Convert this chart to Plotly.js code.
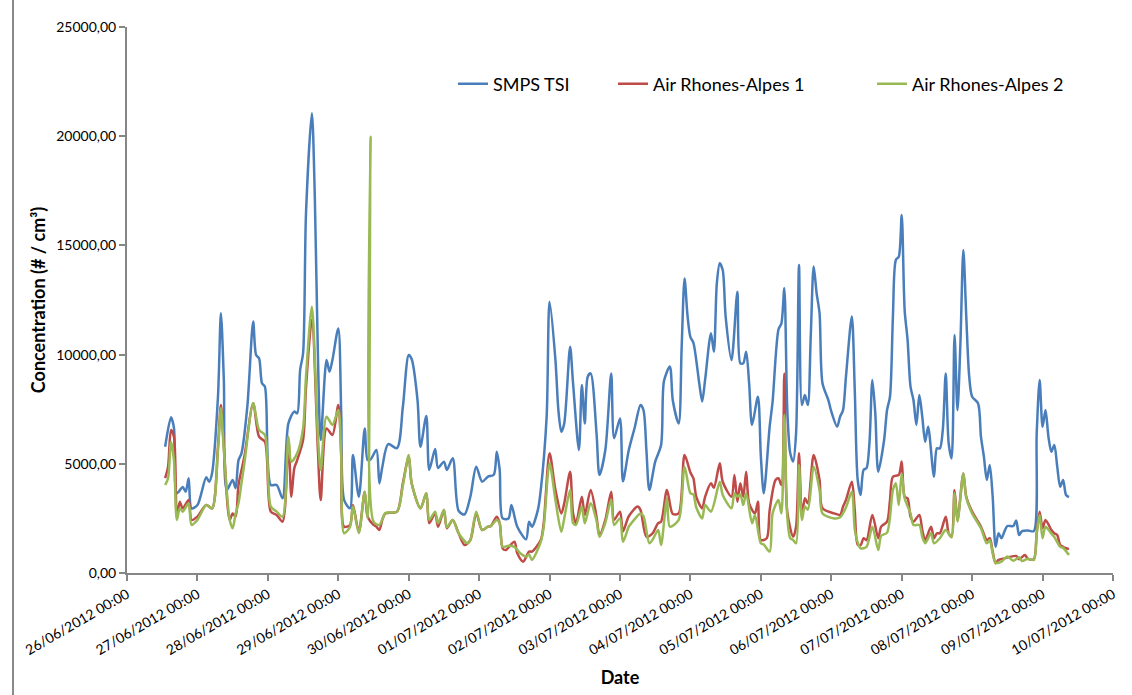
<!DOCTYPE html>
<html>
<head>
<meta charset="utf-8">
<script src="https://cdn.plot.ly/plotly-3.0.1.min.js"></script>
<style>html,body{margin:0;padding:0;background:#fff;}#chart{width:1132px;height:695px;}</style>
</head>
<body>
<div id="chart"></div>
<script>
// Hours counted from 26/06/2012 00:00
const hoursSMPS = [13,15,16,17,19,20,21,22,24,27,28,29,31,32,33,34,36,37,38,39,41,43,44,45,46,47,49,51,53,55,57,58,59,60,61,63,64,65,66,68,69,70,72,73,74,76,77,79,81,82,83,85,86,87,89,92,94,96,97,99,100,102,103,105,106,108,109,111,113,115,117,119,121,123,125,126,127,128,130,131,133,136,137,138,140,141,143,144,146,147,148,149,151,152,154,155,156,157,158,160,161,163,165,166,168,169,171,173,175,176,177,178,180,182,183,185,186,188,189,190,191,192,193,195,196,197,199,200,201,202,203,204,206,208,209,210,211,212,213,215,216,217,219,220,222,223,224,225,226,227,228,229,230,231,232,233,234,235,236,237,239,240,242,243,244,245,247,248,249,250,251,252,253,254,255,256,258,259,260,261,262,263,264,265,266,267,268,269,270,271,272,273,275,276,277,278,279,280,281,282,283,284,285,286,287,288,290,291,292,293,294,295,296,297,298,299,300,302,303,304,305,307,309,310,311,312,313,314,315,316,317,318,319,320,321];
const valuesSMPS = [5780,7130,6640,3650,3940,3720,4340,2960,3110,4380,4180,4580,8070,11890,8840,3800,4260,3880,5170,5480,7620,11510,9980,9830,8690,8530,4030,4030,3420,6850,7390,7310,9300,10060,16470,21050,17230,10360,6090,9750,9220,9750,11200,7310,3340,2960,5400,3490,6620,5170,5200,5630,4100,4850,5900,5720,7600,9980,9800,7920,5780,7190,4720,5680,4810,5100,4720,5250,2850,2680,3490,4870,4180,4410,4500,5550,4720,2500,2500,3110,2120,1540,2350,2120,2880,3800,7160,12420,9750,7460,6470,6850,10360,8690,5630,8610,6850,8990,9140,6400,4490,5630,9140,6170,7080,4200,5630,6650,7690,7460,5630,3800,5100,5860,8800,9450,7900,6850,10300,13490,11800,10800,10550,8690,7850,8840,10980,10130,13270,14180,13870,11740,9750,12880,9600,9600,10130,8690,6780,8070,5330,3650,6700,7850,11150,11430,13040,7500,5500,5100,6400,14100,7690,8150,7690,10820,14030,12810,11890,8690,7920,7400,6700,7160,7460,8990,11740,8380,4260,3570,4720,4800,5940,8840,7310,4640,6090,7460,8070,11740,14330,14480,16390,12040,10670,8530,7920,6780,8150,7160,6010,6700,4410,5710,5700,6550,9140,5940,5250,10900,7460,10500,14790,11740,8990,8070,7770,6240,5330,4260,4950,3490,1200,1820,1590,1900,2150,2150,2400,1740,1920,1950,1920,6400,8840,6700,7460,6240,5550,5860,4870,3950,4260,3570,3470];

const hoursAR1 = [13,14,15,16,17,18,19,21,22,24,27,29,31,32,33,35,36,37,38,40,43,45,47,49,51,53,55,56,57,58,60,61,63,65,66,68,70,72,73,74,76,77,79,81,82,84,85,86,87,88,92,94,96,97,100,102,103,105,106,108,109,111,113,115,117,119,121,123,124,126,127,128,129,132,133,135,137,138,141,142,144,146,148,149,151,152,153,155,156,158,160,161,163,165,166,168,169,171,174,175,177,179,181,182,184,186,188,190,192,193,194,196,197,199,200,202,203,206,207,208,209,210,211,212,214,215,216,218,219,221,222,223,224,225,227,228,229,230,231,232,234,236,237,241,243,244,245,247,248,249,250,251,252,254,256,257,259,260,261,263,264,265,266,267,268,270,271,272,274,275,276,277,279,280,281,282,283,285,286,288,291,293,294,295,296,297,299,303,304,306,307,309,310,311,312,313,315,316,317,318,319,321];
const valuesAR1 = [4340,4870,6550,6240,2580,3260,2960,3340,2430,2580,3110,2960,5780,7690,5780,2430,2730,2580,4030,5330,7770,6240,6010,2810,2660,2350,6090,3490,4790,5170,6090,8500,11590,5780,3340,6620,6320,7690,5480,2120,2200,3110,1890,3720,2580,2200,2120,1970,2430,2730,2810,4110,5330,4110,2960,3650,2280,2730,2120,2880,2050,2430,1820,1280,1510,2730,1970,2120,2150,2580,2280,1130,1050,1430,900,520,980,980,1510,2280,5480,3800,2730,3190,4640,2730,2280,3490,2660,3800,2580,1740,2430,3720,2430,2810,1900,2600,3040,2880,1660,1800,2280,2350,3800,2700,2730,5400,4600,4340,3490,2960,3490,4110,3900,5020,4180,3490,4490,3260,4110,3490,4640,3190,2730,3260,1510,1590,2880,4260,4340,4030,9140,2800,1660,2120,5480,2580,3420,3190,5400,4260,2960,2730,2660,3040,3340,4180,2880,1300,1280,1590,1500,2660,1590,2120,2350,3340,4410,4490,5100,3490,3420,2580,2350,2660,1970,1510,2120,1590,1820,1820,2580,1820,1660,3800,2430,4560,3490,2810,2120,1510,1590,980,440,600,670,780,630,820,650,630,1820,2810,2050,2430,1970,1820,1740,1280,1200,1090];

const hoursAR2 = [13,14,15,16,17,18,19,21,22,24,27,29,31,32,33,35,36,37,38,39,40,43,45,47,49,51,53,55,56,58,60,61,63,65,66,68,70,72,73,74,76,77,79,81,82,83,84,86,87,88,92,94,96,97,100,102,103,105,106,108,109,111,113,116,117,119,121,123,124,126,127,128,130,132,134,136,137,138,141,142,144,146,148,149,151,152,153,155,156,158,160,161,163,165,166,168,169,171,172,175,176,178,179,181,182,184,185,188,190,192,193,194,196,197,199,202,203,206,207,208,209,210,211,213,214,216,217,219,220,222,223,224,225,226,227,228,229,230,231,232,234,236,237,241,243,245,247,248,249,250,252,254,256,257,259,261,262,263,264,265,267,268,270,271,272,274,275,277,279,281,282,283,285,286,288,291,293,294,295,296,298,300,302,304,305,307,309,310,311,312,313,315,316,318,319,321];
const valuesAR2 = [4030,4340,6010,5170,2430,2960,2810,3190,2200,2430,3110,2960,5630,7540,5630,2430,2050,2700,3200,4110,5020,7770,6550,6320,3040,2810,2580,6240,5100,5480,6620,9000,12190,6400,4720,7160,6780,7460,5330,1820,2120,3040,1820,3720,2500,19980,2350,2200,2450,2750,2810,4000,5400,4110,2960,3650,2430,2810,2280,2880,2100,2430,1820,1360,1510,2810,1970,2120,2150,2430,2280,1200,1250,1200,900,750,850,600,1430,2100,5020,3340,1890,2500,3800,2280,2200,3040,2280,3190,2400,1660,2300,3370,2200,2500,1430,2120,2300,2730,2600,1360,1500,1970,1280,3420,2120,2430,4870,3650,3600,3000,2500,3110,2810,4180,3570,2960,3650,3500,3600,3110,3650,2280,2660,1360,1300,980,2730,3340,2730,7230,2580,1600,1510,1360,4950,2430,3040,2900,4870,3800,2730,2500,2550,3000,3720,2000,1400,1130,1200,2120,1050,1700,1850,3800,4110,3110,4560,3420,2730,2200,2200,1660,1360,1820,1360,1590,1970,1630,3650,2350,4560,3450,2730,2050,1360,1500,900,470,520,750,560,720,550,650,600,1820,2660,1590,2120,1800,1650,1200,1150,820];

const seriesNames = ['SMPS TSI', 'Air Rhones-Alpes 1', 'Air Rhones-Alpes 2'];
const seriesColors = ['#4A7EBB', '#BE4B48', '#98B954'];
const xRange = ['2012-06-26 00:00:00', '2012-07-10 00:00:00'];
const yRange = [0, 25000];

const start = Date.UTC(2012, 5, 26, 0, 0, 0);
function hourToDate(h) {
  return new Date(start + h * 3600000).toISOString().slice(0, 19).replace('T', ' ');
}

const FONT = 'Lato, "Open Sans", "DejaVu Sans", sans-serif';
const hoursList = [hoursSMPS, hoursAR1, hoursAR2];
const valuesList = [valuesSMPS, valuesAR1, valuesAR2];
const legendIds = ['legend', 'legend2', 'legend3'];

const traces = seriesNames.map((name, i) => ({
  type: 'scatter',
  mode: 'lines',
  name: name,
  x: hoursList[i].map(hourToDate),
  y: valuesList[i],
  legend: legendIds[i],
  line: {color: seriesColors[i], width: 2.5, shape: 'spline', smoothing: 0.8},
  hoverinfo: 'x+y+name'
}));

const legendBase = {
  y: 0.8956, yanchor: 'middle', xanchor: 'left', orientation: 'h',
  bgcolor: 'rgba(0,0,0,0)', font: {family: FONT, size: 18, color: '#000'}
};

const axisColor = '#868686';
const layout = {
  width: 1132, height: 695,
  margin: {l: 127, r: 19, t: 27, b: 122},
  paper_bgcolor: '#fff', plot_bgcolor: '#fff',
  separators: ',.',
  font: {family: FONT, size: 14, color: '#000'},
  showlegend: true,
  legend: Object.assign({}, legendBase, {x: 0.3306}),
  legend2: Object.assign({}, legendBase, {x: 0.4929}),
  legend3: Object.assign({}, legendBase, {x: 0.7556}),
  xaxis: {
    type: 'date', range: xRange, autorange: false,
    tick0: '2012-06-26 00:00:00', dtick: 86400000,
    tickformat: '%d/%m/%Y %H:%M', tickangle: -30,
    ticks: 'outside', ticklen: 6, tickwidth: 2, tickcolor: axisColor,
    showline: true, linecolor: axisColor, linewidth: 2,
    showgrid: false, zeroline: false,
    tickfont: {family: FONT, size: 14, color: '#000'},
    title: {text: 'Date', font: {family: FONT, size: 18, color: '#000', weight: 'bold'}, standoff: 14}
  },
  yaxis: {
    range: yRange, autorange: false, dtick: 5000, tick0: 0,
    tickformat: '.2f',
    ticks: 'outside', ticklen: 6, tickwidth: 2, tickcolor: axisColor,
    showline: true, linecolor: axisColor, linewidth: 2,
    showgrid: false, zeroline: false,
    tickfont: {family: FONT, size: 14, color: '#000'},
    title: {text: 'Concentration (# / cm³)', font: {family: FONT, size: 18, color: '#000', weight: 'bold'}, standoff: 6}
  },
  shapes: [{
    type: 'line', xref: 'paper', yref: 'paper',
    x0: -0.1156, x1: -0.1156, y0: -0.2234, y1: 1.0495,
    line: {color: '#898989', width: 2}
  }]
};

Plotly.newPlot('chart', traces, layout, {displayModeBar: false, staticPlot: true});
</script>
</body>
</html>
